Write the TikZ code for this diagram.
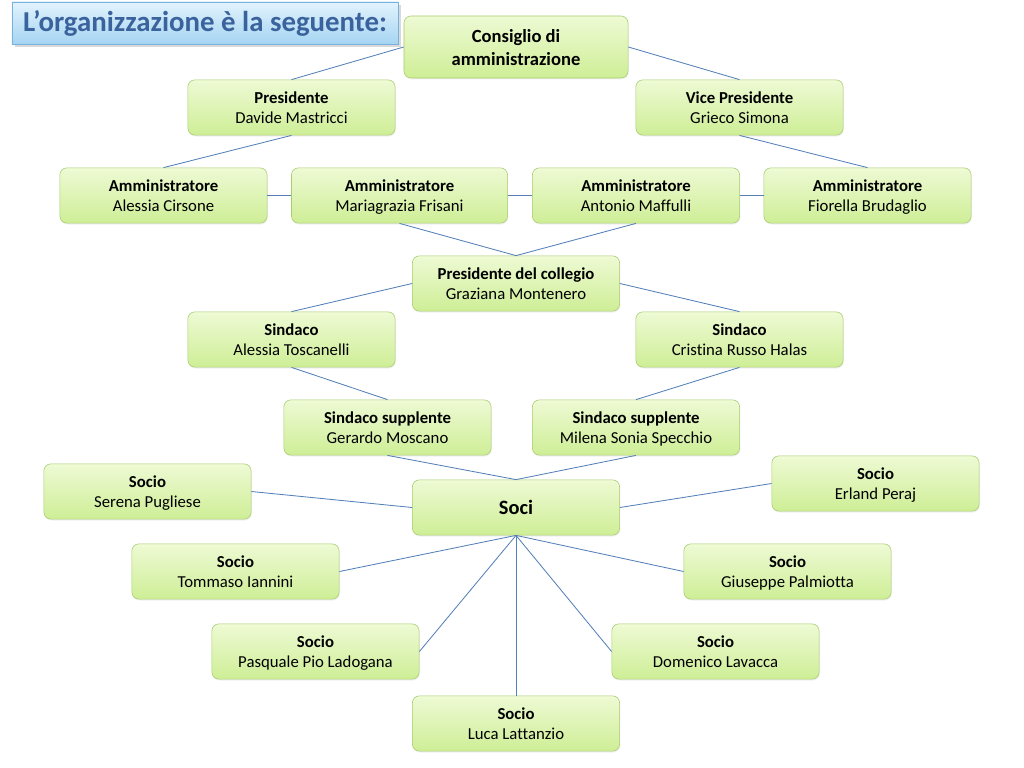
\documentclass[tikz,border=0pt]{standalone}
\usepackage{fontspec}
\setmainfont{Carlito}[Ligatures=NoCommon]
\usetikzlibrary{shadows}
\definecolor{leaftop}{RGB}{238,250,212}
\definecolor{leafbot}{RGB}{206,238,150}
\definecolor{leafedge}{RGB}{168,204,110}
\definecolor{skytop}{RGB}{226,243,253}
\definecolor{skybot}{RGB}{165,212,242}
\definecolor{skyedge}{RGB}{120,178,220}
\definecolor{titleblue}{RGB}{58,98,156}
\definecolor{linkblue}{RGB}{84,128,184}
\tikzset{
  member/.style={draw=leafedge,top color=leaftop,bottom color=leafbot,rounded corners=5pt,
    minimum width=5.18cm,minimum height=1.38cm,align=center,
    font=\fontsize{11.9}{14.3}\selectfont,drop shadow={opacity=0.12,shadow xshift=0.5pt,shadow yshift=-1pt}},
  headline/.style={draw=skyedge,top color=skytop,bottom color=skybot,
    minimum width=9.65cm,minimum height=1.05cm,text=titleblue,
    font=\fontsize{20.5}{24}\selectfont\bfseries,drop shadow={opacity=0.3}},
  link/.style={draw=linkblue,line width=0.6pt},
}
\newcommand{\role}[2]{\rule{0pt}{12.8pt}\textbf{#1}\\#2\strut}
\begin{document}
\begin{tikzpicture}[x=0.025cm,y=-0.025cm]
  \useasboundingbox (0,0) rectangle (1024,768);
  \node[headline] (title) at (205,23) {L’organizzazione è la seguente:};
  % vertice
  \node[member,minimum width=5.6cm,minimum height=1.55cm,font=\fontsize{13.2}{16.4}\selectfont\bfseries] (cda) at (516,47) {\rule{0pt}{15pt}Consiglio di\\amministrazione\strut};
  \node[member] (pres) at (291.5,107.5) {\role{Presidente}{Davide Mastricci}};
  \node[member] (vice) at (739.5,107.5) {\role{Vice Presidente}{Grieco Simona}};
  % amministratori
  \node[member] (amm1) at (163.5,195.5) {\role{Amministratore}{Alessia Cirsone}};
  \node[member,minimum width=5.4cm] (amm2) at (399.5,195.5) {\role{Amministratore}{Mariagrazia Frisani}};
  \node[member] (amm3) at (636,195.5) {\role{Amministratore}{Antonio Maffulli}};
  \node[member] (amm4) at (867.5,195.5) {\role{Amministratore}{Fiorella Brudaglio}};
  % collegio sindacale
  \node[member] (pdc) at (516,283.5) {\role{Presidente del collegio}{Graziana Montenero}};
  \node[member] (sind1) at (291.5,339.5) {\role{Sindaco}{Alessia Toscanelli}};
  \node[member] (sind2) at (739.5,339.5) {\role{Sindaco}{Cristina Russo Halas}};
  \node[member] (supp1) at (387.5,427.5) {\role{Sindaco supplente}{Gerardo Moscano}};
  \node[member] (supp2) at (636,427.5) {\role{Sindaco supplente}{Milena Sonia Specchio}};
  % soci
  \node[member,font=\fontsize{14.5}{16}\selectfont\bfseries] (soci) at (516,507.5) {Soci};
  \foreach \n/\x/\y/\who in {serena/147.5/491.5/Serena Pugliese,erland/875.5/483.5/Erland Peraj,
      tommaso/235.5/571.5/Tommaso Iannini,giuseppe/787.5/571.5/Giuseppe Palmiotta,
      pasquale/315.5/651.5/Pasquale Pio Ladogana,domenico/715.5/651.5/Domenico Lavacca,
      luca/516/723.5/Luca Lattanzio}{
    \node[member] (\n) at (\x,\y) {\role{Socio}{\who}};
  }
  \draw[link] (cda.west) -- (pres.north);
  \draw[link] (cda.east) -- (vice.north);
  \draw[link] (pres.south) -- (amm1.north);
  \draw[link] (vice.south) -- (amm4.north);
  \draw[link] (amm1) -- (amm2); \draw[link] (amm2) -- (amm3); \draw[link] (amm3) -- (amm4);
  \draw[link] (amm2.south) -- (pdc.north);
  \draw[link] (amm3.south) -- (pdc.north);
  \draw[link] (pdc.west) -- (sind1.north);
  \draw[link] (pdc.east) -- (sind2.north);
  \draw[link] (sind1.south) -- (supp1.north);
  \draw[link] (sind2.south) -- (supp2.north);
  \draw[link] (supp1.south) -- (soci.north);
  \draw[link] (supp2.south) -- (soci.north);
  \draw[link] (soci.west) -- (serena.east);
  \draw[link] (soci.east) -- (erland.west);
  \draw[link] (soci.south) -- (tommaso.east);
  \draw[link] (soci.south) -- (giuseppe.west);
  \draw[link] (soci.south) -- (pasquale.east);
  \draw[link] (soci.south) -- (domenico.west);
  \draw[link] (soci.south) -- (luca.north);
\end{tikzpicture}
\end{document}
